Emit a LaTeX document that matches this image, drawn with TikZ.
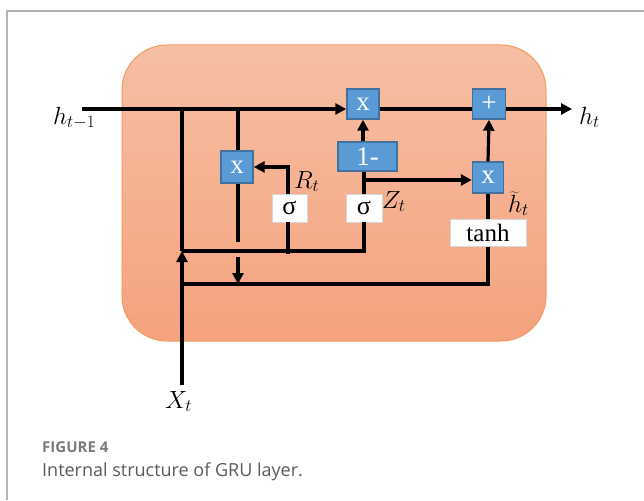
\documentclass[tikz,border=0pt]{standalone}
\usepackage{fontspec}
\setmainfont{Liberation Serif}
\newfontfamily\capfont{Open Sans}
\usetikzlibrary{arrows.meta}
\definecolor{bluefill}{HTML}{5B9BD5}
\definecolor{blueedge}{HTML}{41719C}
\definecolor{celltop}{HTML}{F6BFA4}
\definecolor{cellbot}{HTML}{F5A27E}
\definecolor{celledge}{HTML}{F39A62}
\definecolor{framegray}{HTML}{B4B4B4}
\definecolor{capgray}{HTML}{7A7A7A}
\definecolor{captext}{HTML}{5A5A5A}
\definecolor{whiteedge}{HTML}{D8D8D8}
\begin{document}
\begin{tikzpicture}[x=1pt,y=-1pt,
  wire/.style={line width=3.2pt, black},
  arr/.style={wire, -{Triangle[length=11pt,width=11pt]}},
  opbox/.style={draw=blueedge, fill=bluefill, line width=1.4pt, text=white, inner sep=0pt, font=\fontsize{27}{27}\selectfont},
  fnbox/.style={draw=whiteedge, fill=white, line width=0.8pt, inner sep=0pt, font=\fontsize{26}{26}\selectfont},
  lab/.style={inner sep=0pt, font=\fontsize{25}{28}\selectfont}]
\useasboundingbox (0,0) rectangle (644,500);
\draw[framegray, line width=1.2pt] (644,11) -- (7,11) -- (7,500);
\node[draw=celledge, line width=1pt, rounded corners=45pt, top color=celltop, bottom color=cellbot,
  minimum width=424pt, minimum height=296pt, inner sep=0pt] (cell) at (334,193) {};

% boxes
\node[opbox, minimum width=32pt, minimum height=30pt] (x1) at (363,104) {x};
\node[opbox, minimum width=33pt, minimum height=30pt] (plus) at (489,104) {+};
\node[opbox, minimum width=59pt, minimum height=29pt] (om) at (367.5,156.5) {1-};
\node[opbox, minimum width=32pt, minimum height=32pt] (xr) at (237,167) {x};
\node[opbox, minimum width=31pt, minimum height=31pt] (xz) at (488,177.5) {x};
\node[fnbox, minimum width=35pt, minimum height=28pt] (sr) at (289.5,208) {σ};
\node[fnbox, minimum width=36pt, minimum height=28pt] (sz) at (364,208) {σ};
\node[fnbox, minimum width=76pt, minimum height=27pt, font=\fontsize{25}{25}\selectfont] (th) at (488,233) {tanh};

% labels
\node[lab, anchor=base west] (hp) at (53,124) {$h_{t-1}$};
\node[lab, anchor=base west] (ht) at (579,124) {$h_t$};
\node[lab, anchor=base west] (Rt) at (294,188) {$R_t$};
\node[lab, anchor=base west] (Zt) at (382,208) {$Z_t$};
\node[lab, anchor=base west] (hh) at (508,212) {$\widetilde{h}_t$};
\node[lab, anchor=base west] (Xt) at (165,408) {$X_t$};

% coordinates
\coordinate (hin) at (82,109);
\coordinate (hout) at (572,109);
\coordinate (xb) at (182,385);
\coordinate (xj) at (182,251);
\coordinate (lo) at (182,284);
\coordinate (rj) at (288,254);
\coordinate (zj) at (364,180);
\coordinate (rt) at (238,111);
\coordinate (rg1) at (238,242);
\coordinate (rg2) at (238,257);
\coordinate (rg3) at (238,284);

% main line
\draw[arr] (hin) -- (hin -| x1.west);
\draw[wire] (x1.east |- hin) -- (plus.west |- hin);
\draw[arr] (plus.east |- hin) -- (hout);

% input line
\draw[arr] (xb) -- (xj);
\draw[wire] (xj) -- (xj |- hin);
\draw[wire] (xj) -- (xj -| sz.south) -- (sz.south);
\draw[wire] (rj) -- (rj |- sr.south);
\draw[arr] (rj |- sr.north) |- (xr.east);
\draw[wire] (sz.north) -- (sz.north |- om.south);
\draw[arr] (x1.south |- om.north) -- (x1.south);
\draw[arr] (zj) -- (zj -| xz.west);

% reset path
\draw[wire] (rt) -- (rt |- xr.north);
\draw[wire] (rt |- xr.south) -- (rg1);
\draw[arr] (rg2) -- (rg3);

% candidate path
\draw[wire] (lo) -| (th.south);
\draw[wire] (th.north) -- (xz.south);
\draw[arr] (xz.north) -- (plus.south);

% caption
\node[anchor=base west, inner sep=0pt, font=\capfont\bfseries\fontsize{15}{15}\selectfont, text=capgray] (fig) at (42,452) {FIGURE 4};
\node[anchor=base west, inner sep=0pt, font=\capfont\fontsize{18}{18}\selectfont, text=captext] (cap) at (42,476) {Internal structure of GRU layer.};
\end{tikzpicture}
\end{document}
